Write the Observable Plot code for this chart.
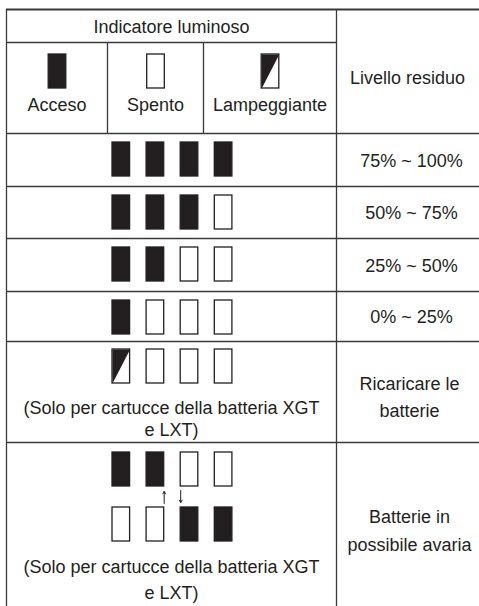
<!DOCTYPE html>
<html><head><meta charset="utf-8">
<script src="https://cdn.jsdelivr.net/npm/d3@7"></script>
<script src="https://cdn.jsdelivr.net/npm/@observablehq/plot@0.6"></script>
<style>html,body{margin:0;padding:0;background:#fff;}svg{display:block;}</style>
</head><body>
<script>
// ---------- data ----------
const headerTitle = "Indicatore luminoso";
const residualTitle = "Livello residuo";
const legendStates = ["on", "off", "blink"];
const legendLabels = ["Acceso", "Spento", "Lampeggiante"];
const levelLabels = ["75% ~ 100%", "50% ~ 75%", "25% ~ 50%", "0% ~ 25%"];
const levelPatterns = [
  ["on", "on", "on", "on"],
  ["on", "on", "on", "off"],
  ["on", "on", "off", "off"],
  ["on", "off", "off", "off"]
];
const rechargePattern = ["blink", "off", "off", "off"];
const rechargeNote = ["(Solo per cartucce della batteria XGT", "e LXT)"];
const rechargeLabel = ["Ricaricare le", "batterie"];
const faultPatternA = ["on", "on", "off", "off"];
const faultPatternB = ["off", "off", "on", "on"];
const faultArrows = [{slot: 1, side: "right", dir: "up"}, {slot: 2, side: "left", dir: "down"}];
const faultNote = ["(Solo per cartucce della batteria XGT", "e LXT)"];
const faultLabel = ["Batterie in", "possibile avaria"];

// ---------- layout ----------
const W = 479, H = 606;
const INK = "#231f20";
const LINE = "#3a3a3a";
const colX = [6, 107, 203, 336, 487];
const rowY = [9, 42, 133, 186, 238, 291, 341, 442, 630];
const indCenter = (colX[0] + colX[3]) / 2;
const resCenter = 409;
const iconW = 17.6, iconH = 34, slot0 = 112, slotStep = 34.1;
const slotX = i => slot0 + i * slotStep;

const icons = [];
const triangles = [];
let triId = 0;
function addIcon(x, y, state) {
  icons.push({x1: x, x2: x + iconW, y1: y, y2: y + iconH, state});
  if (state === "blink") {
    const id = triId++;
    triangles.push({id, x: x, y: y}, {id, x: x + iconW, y: y}, {id, x: x, y: y + iconH});
  }
}
const texts = [];
function addText(x, y, text) { texts.push({x, y, text}); }

// header
addText(indCenter, 32, headerTitle);
addText(resCenter - 2, 83, residualTitle);
// legend
legendStates.forEach((s, i) => {
  const cx = (colX[i] + colX[i + 1]) / 2;
  addIcon(cx - iconW / 2 + 0.5, rowY[1] + 12, s);
  addText(cx, 110, legendLabels[i]);
});
// levels
levelPatterns.forEach((p, r) => {
  const top = rowY[2 + r];
  const bot = rowY[3 + r];
  p.forEach((s, i) => addIcon(slotX(i), top + 9, s));
  addText(resCenter + 2, (top + bot) / 2 + 6.5, levelLabels[r]);
});
// recharge
rechargePattern.forEach((s, i) => addIcon(slotX(i), rowY[6] + 8, s));
rechargeNote.forEach((t, j) => addText(indCenter, 413 + j * 22, t));
rechargeLabel.forEach((t, j) => addText(resCenter, 389 + j * 27, t));
// fault
faultPatternA.forEach((s, i) => addIcon(slotX(i), rowY[7] + 10, s));
faultPatternB.forEach((s, i) => addIcon(slotX(i), rowY[7] + 65, s));
const arrows = faultArrows.map(a => {
  const x = a.side === "right" ? slotX(a.slot) + iconW : slotX(a.slot);
  return a.dir === "up"
    ? {x1: x, x2: x, y1: rowY[7] + 61, y2: rowY[7] + 49}
    : {x1: x, x2: x, y1: rowY[7] + 48, y2: rowY[7] + 60};
});
faultNote.forEach((t, j) => addText(indCenter, 572 + j * 26, t));
faultLabel.forEach((t, j) => addText(resCenter, 522 + j * 28, t));

// grid lines
const hLines = [
  {y: rowY[0], x1: colX[0], x2: colX[4], w: 1.8},
  {y: rowY[1], x1: colX[0], x2: colX[3], w: 1.3},
  ...rowY.slice(2, 8).map(y => ({y, x1: colX[0], x2: colX[4], w: 1.3}))
];
const vLines = [
  {x: colX[0], y1: rowY[0], y2: H + 10},
  {x: colX[3], y1: rowY[0], y2: H + 10},
  {x: colX[1], y1: rowY[1], y2: rowY[2]},
  {x: colX[2], y1: rowY[1], y2: rowY[2]}
];

const chart = Plot.plot({
  width: W, height: H, margin: 0,
  x: {type: "linear", domain: [0, W], range: [0, W], axis: null},
  y: {type: "linear", domain: [0, H], range: [0, H], axis: null},
  style: {background: "#fff", fontFamily: "'Liberation Sans', Arial, sans-serif"},
  marks: [
    Plot.ruleY(hLines, {y: "y", x1: "x1", x2: "x2", stroke: LINE, strokeWidth: "w"}),
    Plot.ruleX(vLines, {x: "x", y1: "y1", y2: "y2", stroke: LINE, strokeWidth: 1.3}),
    Plot.rect(icons, {x1: "x1", x2: "x2", y1: "y1", y2: "y2",
      fill: d => d.state === "on" ? INK : "#fff", stroke: INK, strokeWidth: 1.3}),
    Plot.line(triangles, {x: "x", y: "y", z: "id", fill: INK, stroke: "none", curve: "linear"}),
    Plot.arrow(arrows, {x1: "x1", y1: "y1", x2: "x2", y2: "y2", stroke: INK, strokeWidth: 1, headLength: 4}),
    Plot.text(texts, {x: "x", y: "y", text: "text", lineAnchor: "bottom", textAnchor: "middle",
      fontSize: 18, fill: INK})
  ]
});
document.body.appendChild(chart);
</script>
</body></html>
